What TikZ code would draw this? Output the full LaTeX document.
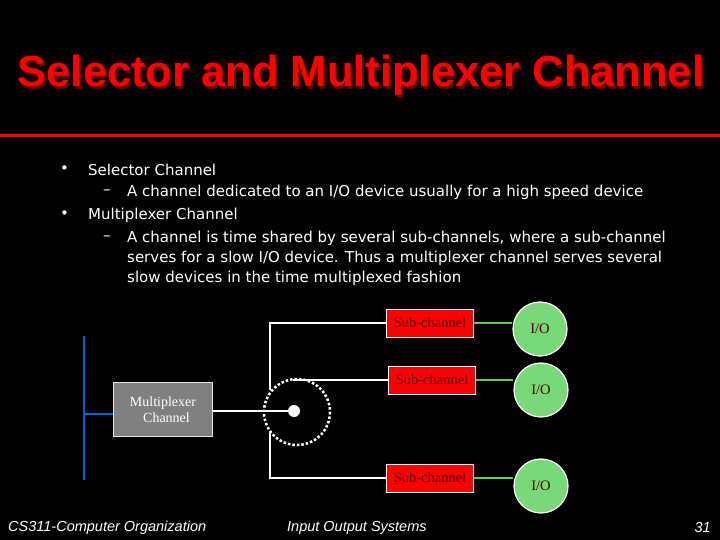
\documentclass[tikz,border=0pt]{standalone}
\usepackage{fontspec}
\setmainfont{Liberation Serif}
\setsansfont{Liberation Sans}
\newfontfamily\bodyfont{DejaVu Sans}
\begin{document}
\begin{tikzpicture}[x=1pt,y=-1pt,
  body/.style={anchor=west,text=white,font=\bodyfont\fontsize{15}{17}\selectfont,inner sep=0},
  wire/.style={white,line width=2},
  sub/.style={fill=red,draw=white,line width=1,minimum width=87,minimum height=28,inner sep=0,font=\rmfamily\fontsize{14.5}{16}\selectfont,text=black!70!red},
  io/.style={circle,fill=green!45!white!85!black,draw=white,line width=1.2,minimum size=54,inner sep=0,font=\rmfamily\fontsize{14.5}{16}\selectfont,text=black!70!red},
  gl/.style={green!55!white!80!black,line width=2.5},
  foot/.style={text=white,font=\sffamily\itshape\fontsize{14.5}{16}\selectfont,inner sep=0}]
\fill[black] (0,0) rectangle (720,540);
\useasboundingbox (0,0) rectangle (720,540);
\node[text=black!60!red,font=\sffamily\bfseries\fontsize{43.5}{48}\selectfont] at (363,78) {Selector and Multiplexer Channel};
\node (title) [text=red,font=\sffamily\bfseries\fontsize{43.5}{48}\selectfont] at (361,75) {Selector and Multiplexer Channel};
\draw[red,line width=3] (0,136) -- (720,136);
\node[body] (b1) at (60,170) {•};
\node[body] (t1) at (88,170) {Selector Channel};
\node[body] (d1) at (103,192) {–};
\node[body] (t1a) at (127,192) {A channel dedicated to an I/O device usually for a high speed device};
\node[body] (b2) at (60,215) {•};
\node[body] (t2) at (88,215) {Multiplexer Channel};
\node[body] (d2) at (103,238) {–};
\node[body] (t2a) at (127,238) {A channel is time shared by several sub-channels, where a sub-channel};
\node[body] (t2b) at (127,258) {serves for a slow I/O device. Thus a multiplexer channel serves several};
\node[body] (t2c) at (127,278) {slow devices in the time multiplexed fashion};
\coordinate (bt) at (84,336);
\coordinate (bb) at (84,480);
\coordinate (bm) at (84,414);
\draw[blue!50!cyan!80!black,line width=2.5] (bt) -- (bb);
\node (mux) [fill=gray,draw=white!80!gray,line width=1,minimum width=99,minimum height=54,inner sep=0,align=center,text=white,font=\rmfamily\fontsize{14}{16}\selectfont,anchor=north west] at (113,382) {Multiplexer\\\ \ Channel};
\draw[blue!50!cyan!80!black,line width=2.5] (bm) -- (mux.west|-bm);
\node (hub) [circle,fill=white,minimum size=12,inner sep=0] at (294,411) {};
\draw[white,line width=2.5,dotted] (297,412) circle (33);
\draw[wire] (mux.east|-hub) -- (hub);
\node (s1) [sub,anchor=west] at (386,323) {Sub-channel};
\node (s2) [sub,anchor=west] at (388,380) {Sub-channel};
\node (s3) [sub,anchor=west] at (386,478) {Sub-channel};
\coordinate (p1) at (270,390);
\coordinate (p2) at (293,380);
\coordinate (p3) at (270,431);
\draw[wire] (p1) |- (s1.west);
\draw[wire] (p2) |- (s2.west);
\draw[wire] (p3) |- (s3.west);
\node (io1) [io] at (540,329) {I/O};
\node (io2) [io] at (541,390) {I/O};
\node (io3) [io] at (541,486) {I/O};
\draw[gl] (s1.east) -- (s1.east-|io1.west);
\draw[gl] (s2.east) -- (s2.east-|io2.west);
\draw[gl] (s3.east) -- (s3.east-|io3.west);
\node (f1) [foot,anchor=west] at (8,528) {CS311-Computer Organization};
\node (f2) [foot,anchor=west] at (287,528) {Input Output Systems};
\node (f3) [foot,anchor=east] at (711,528) {31};
\end{tikzpicture}
\end{document}
